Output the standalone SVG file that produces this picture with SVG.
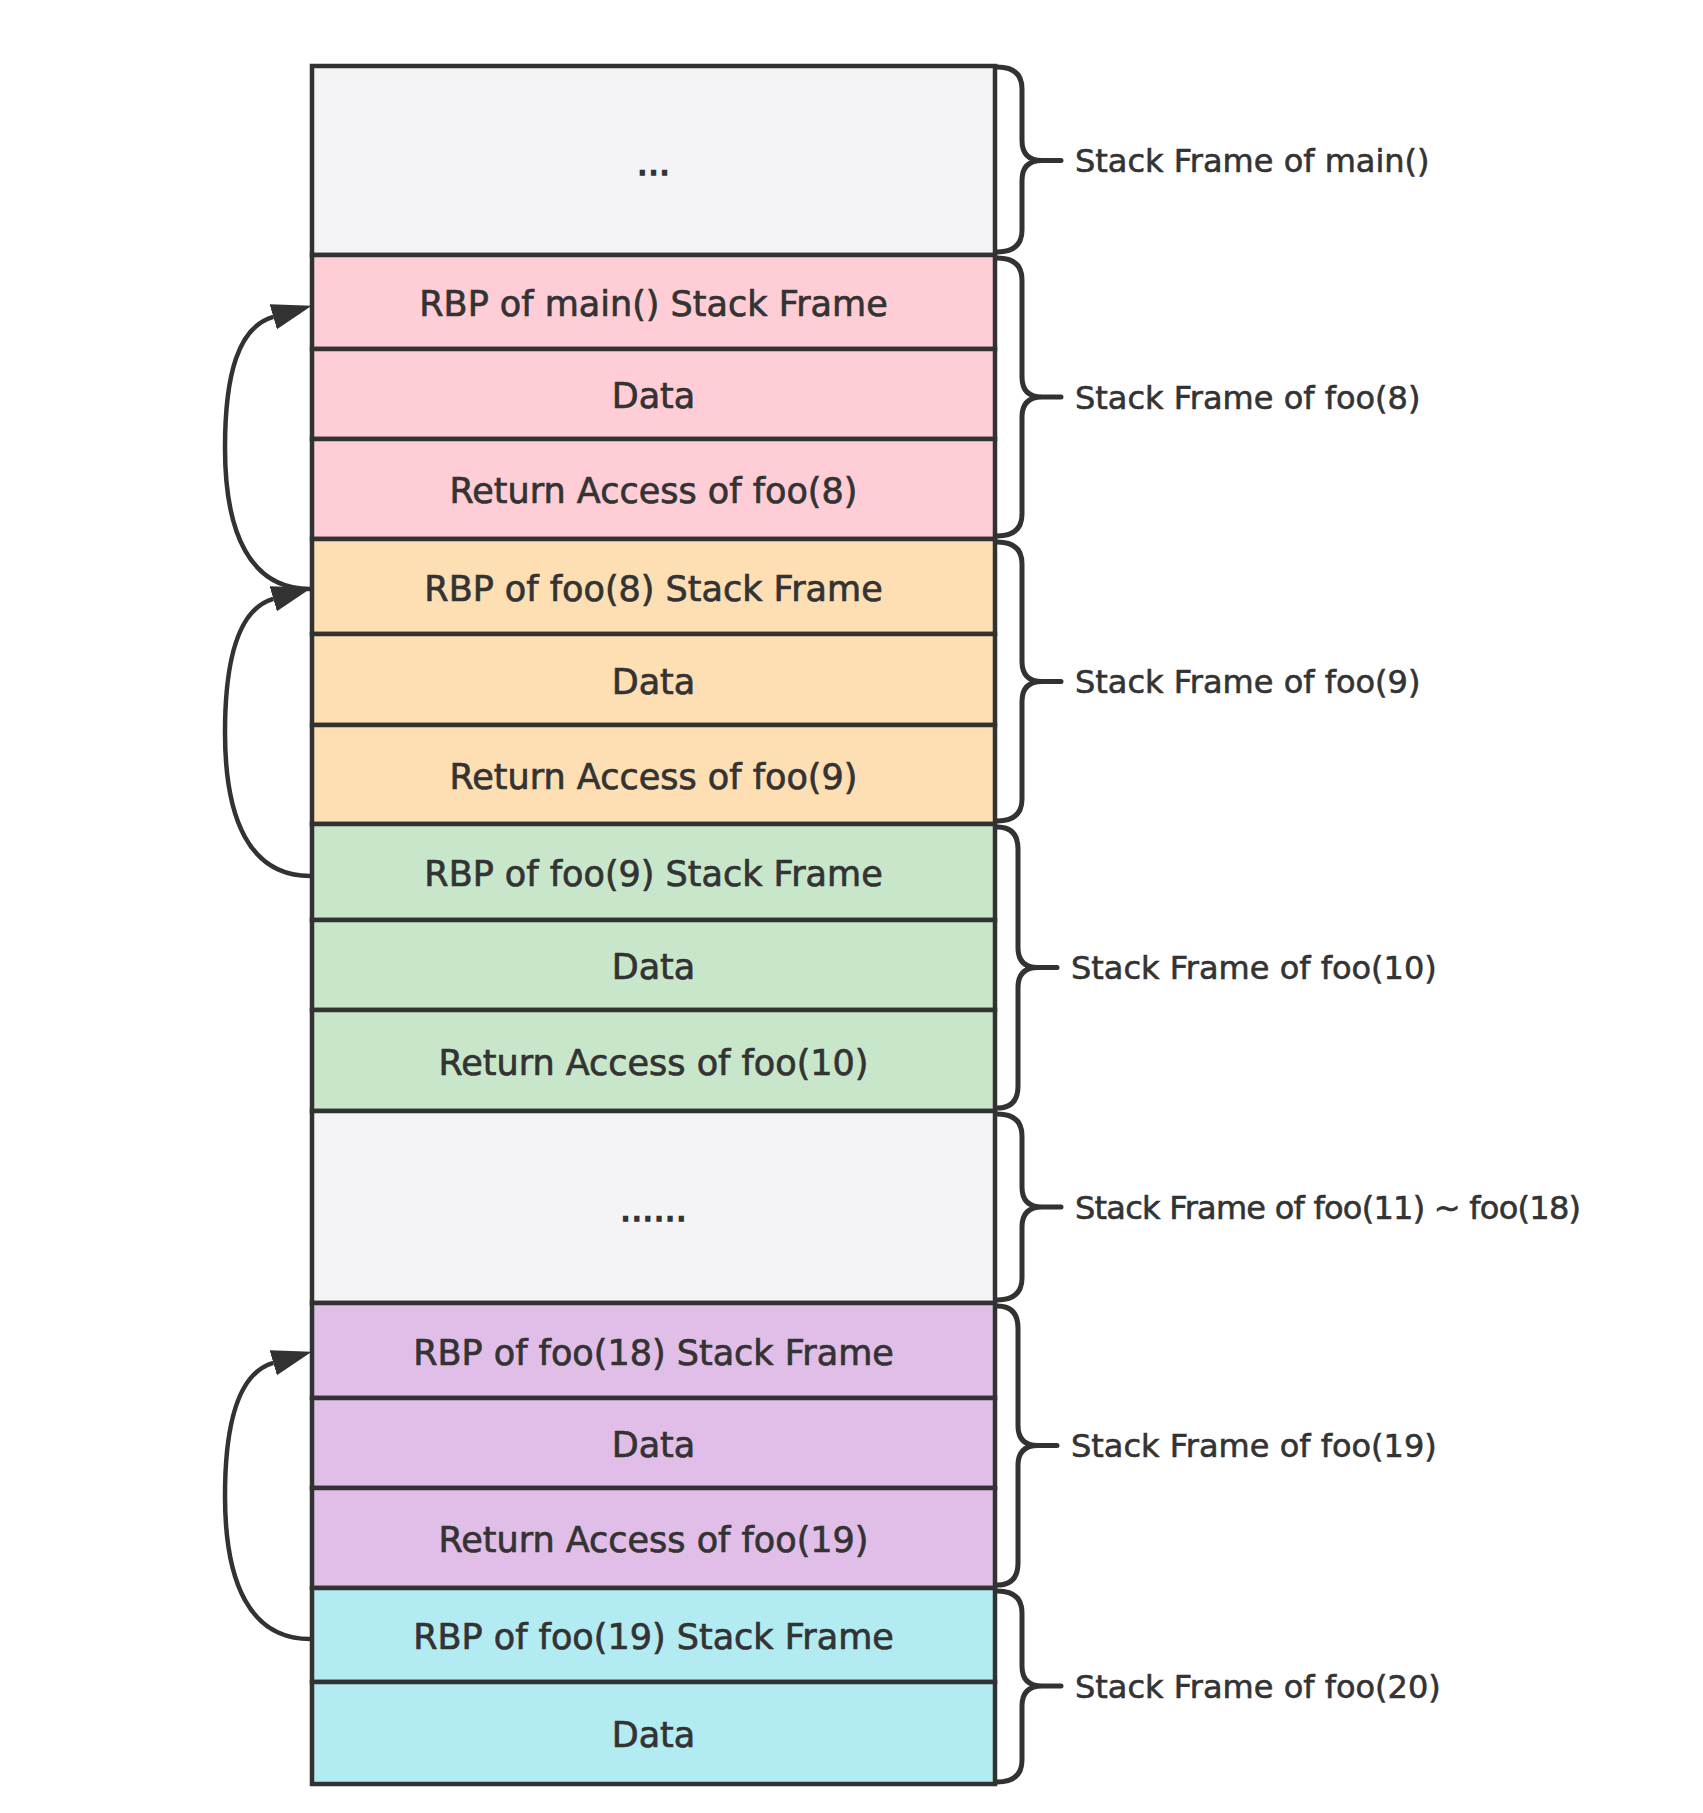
<svg xmlns="http://www.w3.org/2000/svg" width="1703" height="1813" viewBox="0 0 1703 1813">
<style>
.cell{stroke:#323232;stroke-width:4.5}
.grey{fill:#F4F4F6}.pink{fill:#FFCDD5}.orange{fill:#FDDFB3}.green{fill:#C8E6CA}.purple{fill:#E1BEE7}.cyan{fill:#B2EBF2}
.t{font-family:"DejaVu Sans","Liberation Sans",sans-serif;font-size:35px;fill:#333333;stroke:#333333;stroke-width:0.7;text-anchor:middle}
.dots{stroke-width:1.6}
.lbl{font-family:"DejaVu Sans","Liberation Sans",sans-serif;font-size:32px;fill:#333333;stroke:#333333;stroke-width:0.6}
.brace{fill:none;stroke:#323232;stroke-width:5;stroke-linecap:round;stroke-linejoin:round}
.conn{fill:none;stroke:#323232;stroke-width:4.5}
</style>
<defs>
<marker id="arrow" markerUnits="userSpaceOnUse" markerWidth="40" markerHeight="26" viewBox="0 0 38 24.6" refX="0" refY="12.3" orient="auto">
<path d="M0,0 L38,12.3 L0,24.6 Z" fill="#323232"/>
</marker>
</defs>
<rect width="1703" height="1813" fill="#ffffff"/>
<g id="stack">
<g id="row-main"><rect class="cell grey" x="312" y="66" width="683" height="189"/><text class="t dots" x="653.5" y="174.5">...</text></g>
<g id="row-rbp-main"><rect class="cell pink" x="312" y="255" width="683" height="94"/><text class="t" x="653.5" y="316">RBP of main() Stack Frame</text></g>
<g id="row-data-8"><rect class="cell pink" x="312" y="349" width="683" height="90"/><text class="t" x="653.5" y="408">Data</text></g>
<g id="row-ret-8"><rect class="cell pink" x="312" y="439" width="683" height="100"/><text class="t" x="653.5" y="503">Return Access of foo(8)</text></g>
<g id="row-rbp-8"><rect class="cell orange" x="312" y="539" width="683" height="95"/><text class="t" x="653.5" y="600.5">RBP of foo(8) Stack Frame</text></g>
<g id="row-data-9"><rect class="cell orange" x="312" y="634" width="683" height="91"/><text class="t" x="653.5" y="693.5">Data</text></g>
<g id="row-ret-9"><rect class="cell orange" x="312" y="725" width="683" height="99"/><text class="t" x="653.5" y="788.5">Return Access of foo(9)</text></g>
<g id="row-rbp-9"><rect class="cell green" x="312" y="824" width="683" height="96"/><text class="t" x="653.5" y="886">RBP of foo(9) Stack Frame</text></g>
<g id="row-data-10"><rect class="cell green" x="312" y="920" width="683" height="90"/><text class="t" x="653.5" y="979">Data</text></g>
<g id="row-ret-10"><rect class="cell green" x="312" y="1010" width="683" height="101"/><text class="t" x="653.5" y="1074.5">Return Access of foo(10)</text></g>
<g id="row-mid"><rect class="cell grey" x="312" y="1111" width="683" height="192"/><text class="t dots" x="653.5" y="1221">......</text></g>
<g id="row-rbp-18"><rect class="cell purple" x="312" y="1303" width="683" height="95"/><text class="t" x="653.5" y="1364.5">RBP of foo(18) Stack Frame</text></g>
<g id="row-data-19"><rect class="cell purple" x="312" y="1398" width="683" height="90"/><text class="t" x="653.5" y="1457">Data</text></g>
<g id="row-ret-19"><rect class="cell purple" x="312" y="1488" width="683" height="100"/><text class="t" x="653.5" y="1552">Return Access of foo(19)</text></g>
<g id="row-rbp-19"><rect class="cell cyan" x="312" y="1588" width="683" height="94"/><text class="t" x="653.5" y="1649">RBP of foo(19) Stack Frame</text></g>
<g id="row-data-20"><rect class="cell cyan" x="312" y="1682" width="683" height="102"/><text class="t" x="653.5" y="1747">Data</text></g>
</g>
<g id="brace-main"><path class="brace" d="M997,67 Q1022,67 1022,89 L1022,140.5 Q1022,160.5 1042,160.5 L1061,160.5 M1042,160.5 Q1022,160.5 1022,180.5 L1022,230 Q1022,252 997,252"/><text class="lbl" x="1075" y="172">Stack Frame of main()</text></g>
<g id="brace-foo8"><path class="brace" d="M997,258 Q1022,258 1022,280 L1022,377 Q1022,397 1042,397 L1061,397 M1042,397 Q1022,397 1022,417 L1022,514 Q1022,536 997,536"/><text class="lbl" x="1075" y="408.5">Stack Frame of foo(8)</text></g>
<g id="brace-foo9"><path class="brace" d="M997,542 Q1022,542 1022,564 L1022,661.5 Q1022,681.5 1042,681.5 L1061,681.5 M1042,681.5 Q1022,681.5 1022,701.5 L1022,799 Q1022,821 997,821"/><text class="lbl" x="1075" y="693">Stack Frame of foo(9)</text></g>
<g id="brace-foo10"><path class="brace" d="M997,827 Q1018,827 1018,849 L1018,947.5 Q1018,967.5 1038,967.5 L1057,967.5 M1038,967.5 Q1018,967.5 1018,987.5 L1018,1086 Q1018,1108 997,1108"/><text class="lbl" x="1071" y="979">Stack Frame of foo(10)</text></g>
<g id="brace-foo11-18"><path class="brace" d="M997,1114 Q1022,1114 1022,1136 L1022,1187 Q1022,1207 1042,1207 L1061,1207 M1042,1207 Q1022,1207 1022,1227 L1022,1278 Q1022,1300 997,1300"/><text class="lbl" x="1075" y="1218.5" textLength="506">Stack Frame of foo(11) ~ foo(18)</text></g>
<g id="brace-foo19"><path class="brace" d="M997,1306 Q1018,1306 1018,1328 L1018,1425.5 Q1018,1445.5 1038,1445.5 L1057,1445.5 M1038,1445.5 Q1018,1445.5 1018,1465.5 L1018,1563 Q1018,1585 997,1585"/><text class="lbl" x="1071" y="1457">Stack Frame of foo(19)</text></g>
<g id="brace-foo20"><path class="brace" d="M997,1591 Q1022,1591 1022,1613 L1022,1666 Q1022,1686 1042,1686 L1061,1686 M1042,1686 Q1022,1686 1022,1706 L1022,1760 Q1022,1782 997,1782"/><text class="lbl" x="1075" y="1697.5">Stack Frame of foo(20)</text></g>
<g id="connectors">
<path class="conn" marker-end="url(#arrow)" d="M310,589 C250,589 225,533 225,448 C225,375 238,327 273.3,316.8"/>
<path class="conn" marker-end="url(#arrow)" d="M310,876 C250,876 225,820 225,732.5 C225,659.5 238,609 273.3,598.8"/>
<path class="conn" marker-end="url(#arrow)" d="M310,1639 C250,1639 225,1583 225,1496 C225,1423 238,1373 273.3,1362.8"/>
</g>
</svg>
